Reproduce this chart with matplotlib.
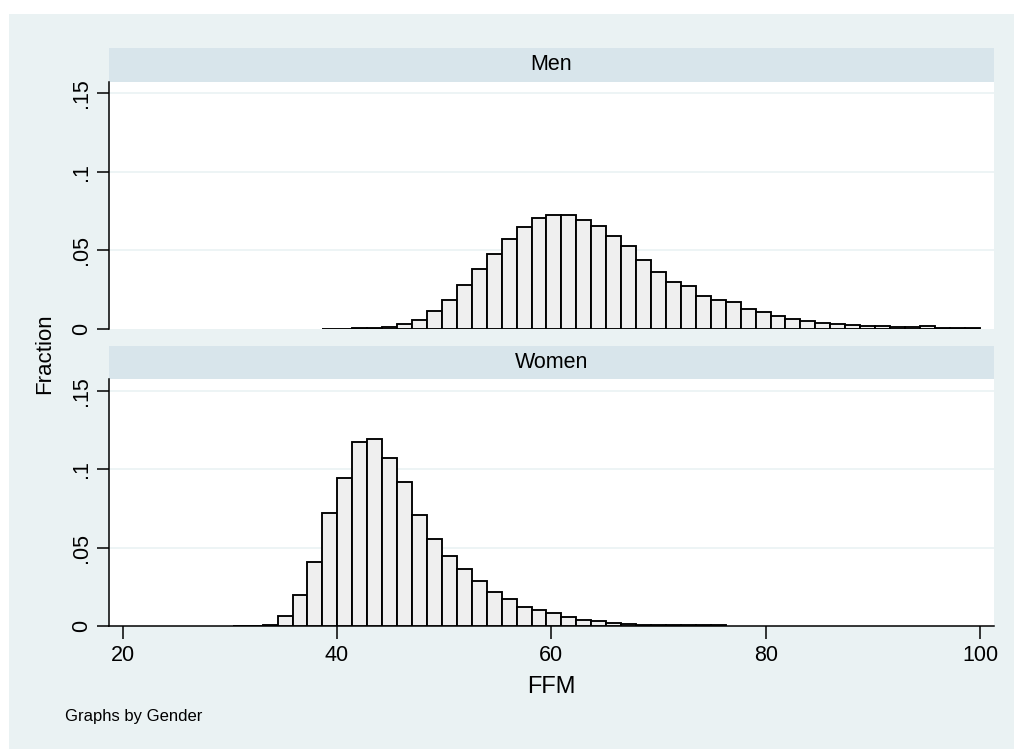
import matplotlib
matplotlib.use("Agg")
import matplotlib.pyplot as plt
from matplotlib.patches import Rectangle
from matplotlib.ticker import FixedLocator, FuncFormatter

matplotlib.rcParams['font.family'] = ['Liberation Sans', 'DejaVu Sans']

# histogram bins shared by both panels (Stata by(): 50 bins over whole sample)
bin_start = 30.27
bin_width = 1.394
n_bins = 50

# fraction per bin, bin 0 .. 49
men_frac = [
    0, 0, 0, 0, 0, 0,
    0.0002, 0.0002, 0.0004, 0.0009, 0.0015, 0.0030, 0.0058, 0.0113, 0.0186, 0.0280,
    0.0380, 0.0479, 0.0573, 0.0652, 0.0707, 0.0729, 0.0729, 0.0692, 0.0656, 0.0590,
    0.0526, 0.0438, 0.0362, 0.0297, 0.0276, 0.0207, 0.0184, 0.0169, 0.0130, 0.0107,
    0.0085, 0.0066, 0.0051, 0.0041, 0.0032, 0.0026, 0.0019, 0.0019, 0.0013, 0.0013,
    0.0017, 0.0009, 0.0009, 0.0004,
]
women_frac = [
    0.0002, 0.0002, 0.0007, 0.0066, 0.0201, 0.0410, 0.0724, 0.0947, 0.1173, 0.1192,
    0.1075, 0.0917, 0.0707, 0.0558, 0.0449, 0.0363, 0.0288, 0.0220, 0.0170, 0.0123,
    0.0103, 0.0081, 0.0056, 0.0038, 0.0034, 0.0021, 0.0013, 0.0009, 0.0009, 0.0004,
    0.0004, 0.0004, 0.0004,
    0, 0, 0, 0, 0, 0, 0, 0, 0, 0, 0, 0, 0, 0, 0, 0, 0,
]
panels = ["Men", "Women"]
x_ticks = [20, 40, 60, 80, 100]
y_ticks = [0, 0.05, 0.1, 0.15]

bg_clr = '#EAF2F3'
strip_clr = '#D8E5EB'
bar_clr = '#EFEFEF'

W, H = 1014, 749


def px_box(left, top, right, bottom):
    return [left / W, 1 - bottom / H, (right - left) / W, (bottom - top) / H]


def ylab(v, pos):
    if v == 0:
        return "0"
    return ("%g" % v).lstrip("0")


def draw_panel(ax, fracs, show_x):
    edges = [bin_start + i * bin_width for i in range(n_bins)]
    xs = [e for e, f in zip(edges, fracs) if f > 0]
    ys = [f for f in fracs if f > 0]
    ax.bar(xs, ys, width=bin_width, align='edge', color=bar_clr,
           edgecolor='black', linewidth=1.35, zorder=3)
    ax.set_xlim(18.72, 101.31)
    ax.set_ylim(0, 0.1575)
    ax.yaxis.set_major_locator(FixedLocator(y_ticks))
    ax.yaxis.set_major_formatter(FuncFormatter(ylab))
    for t in y_ticks[1:]:
        ax.axhline(t, color=bg_clr, lw=1.2, zorder=1)
    for s in ['top', 'right']:
        ax.spines[s].set_visible(False)
    ax.spines['left'].set_linewidth(1.1)
    ax.tick_params(axis='y', length=9, width=1.1, labelsize=15.5, pad=3)
    for lbl in ax.get_yticklabels():
        lbl.set_rotation(90)
        lbl.set_va('center')
    if show_x:
        ax.spines['bottom'].set_linewidth(1.1)
        ax.xaxis.set_major_locator(FixedLocator(x_ticks))
        ax.tick_params(axis='x', length=9, width=1.1, labelsize=15.5, pad=5)
    else:
        ax.spines['bottom'].set_visible(False)
        ax.set_xticks([])


def main():
    fig = plt.figure(figsize=(W / 100, H / 100), dpi=100, facecolor='white')
    fig.patches.append(Rectangle((9 / W, -0.2), 2, 1.2 - 14 / H, transform=fig.transFigure,
                                 facecolor=bg_clr, edgecolor='none', zorder=-10))

    boxes = [(48.3, 81.7, 329.0), (346.0, 379.3, 626.0)]
    data = [men_frac, women_frac]
    for i, (name, fracs, (s_top, a_top, a_bot)) in enumerate(zip(panels, data, boxes)):
        strip = fig.add_axes(px_box(109, s_top, 994, a_top))
        strip.set_facecolor(strip_clr)
        strip.set_xticks([])
        strip.set_yticks([])
        for s in strip.spines.values():
            s.set_visible(False)
        strip.text(0.5, 0.5, name, ha='center', va='center', fontsize=15.5,
                   transform=strip.transAxes)

        ax = fig.add_axes(px_box(109, a_top, 994, a_bot))
        ax.set_facecolor('white')
        draw_panel(ax, fracs, show_x=(i == 1))

    fig.text(45 / W, 1 - 354 / H, 'Fraction', rotation=90, ha='center', va='center', fontsize=16)
    fig.text(551.5 / W, 1 - 687 / H, 'FFM', ha='center', va='center', fontsize=17)
    fig.text(65 / W, 1 - 716 / H, 'Graphs by Gender', ha='left', va='center', fontsize=12)

    fig.savefig('out.png', dpi=100, facecolor=fig.get_facecolor())


if __name__ == '__main__':
    main()
